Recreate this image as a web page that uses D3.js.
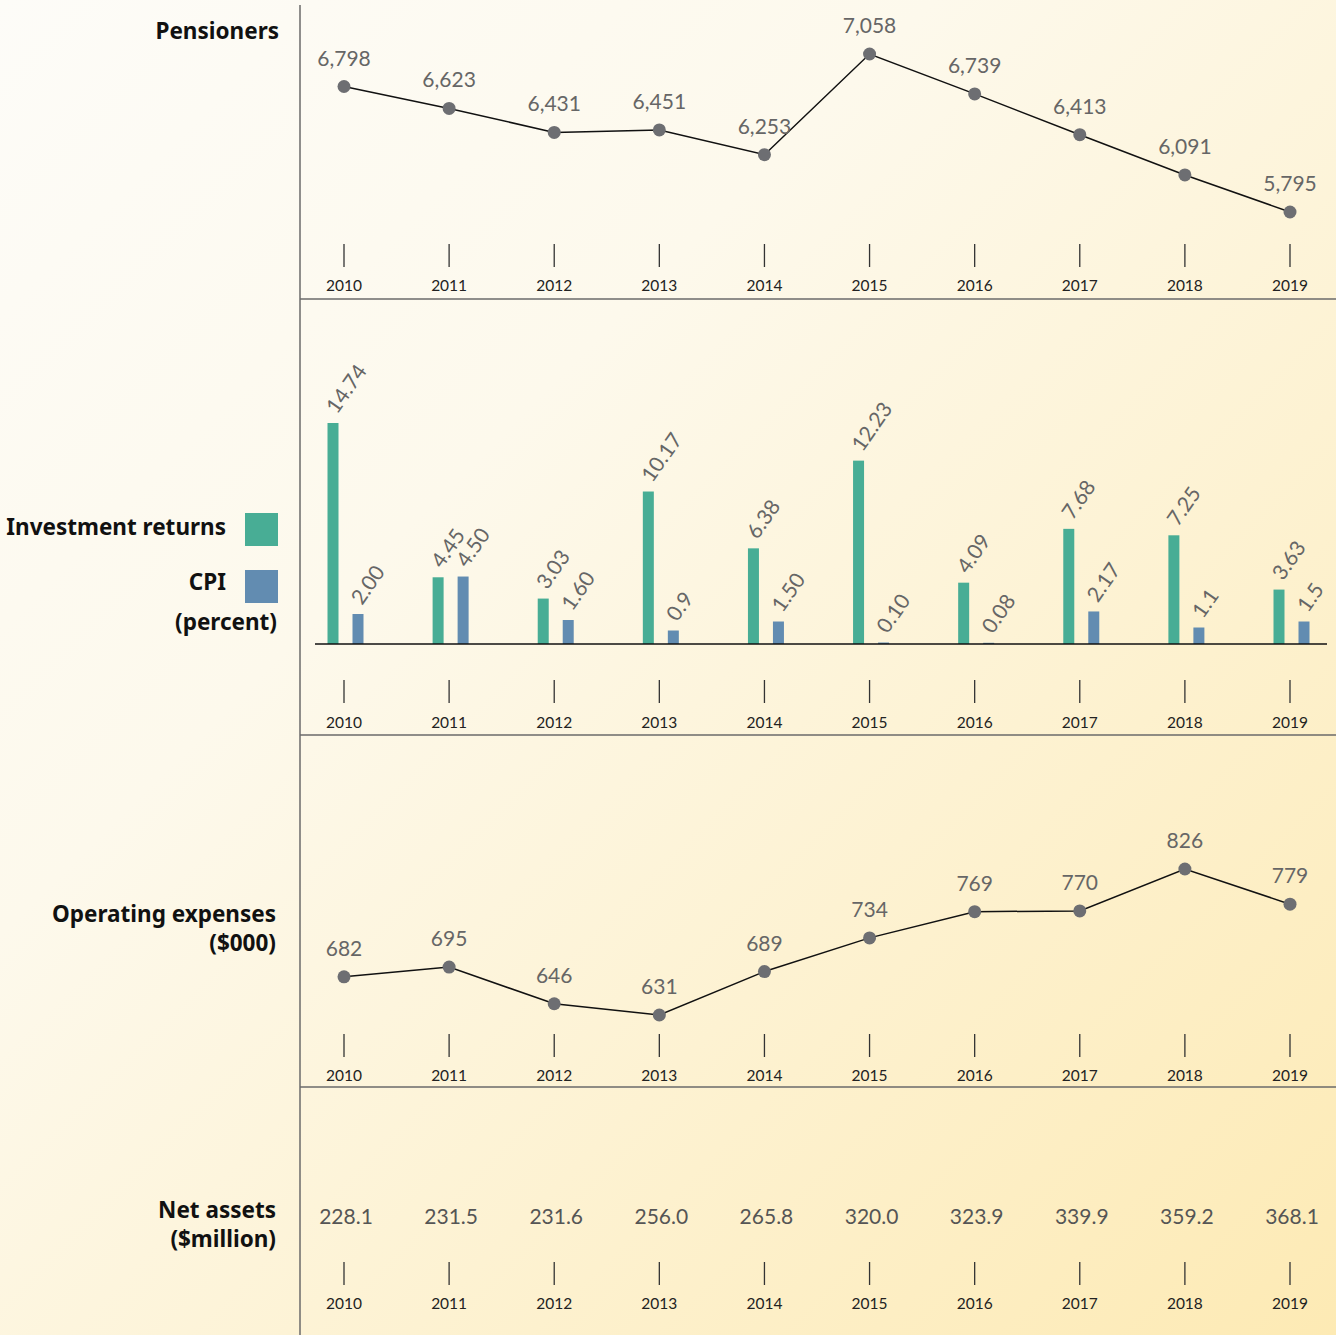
<!DOCTYPE html>
<html>
<head>
<meta charset="utf-8">
<script src="https://cdn.jsdelivr.net/npm/d3@7"></script>
<style>
  html, body { margin: 0; padding: 0; }
  svg { display: block; font-family: Lato, "Noto Sans", sans-serif; }
</style>
</head>
<body>
<div id="chart"></div>
<script>
const years = ['2010', '2011', '2012', '2013', '2014', '2015', '2016', '2017', '2018', '2019'];
const pensioners = [6798, 6623, 6431, 6451, 6253, 7058, 6739, 6413, 6091, 5795];
const investReturns = [14.74, 4.45, 3.03, 10.17, 6.38, 12.23, 4.09, 7.68, 7.25, 3.63];
const investLabels = ['14.74', '4.45', '3.03', '10.17', '6.38', '12.23', '4.09', '7.68', '7.25', '3.63'];
const cpi = [2.00, 4.50, 1.60, 0.9, 1.50, 0.10, 0.08, 2.17, 1.1, 1.5];
const cpiLabels = ['2.00', '4.50', '1.60', '0.9', '1.50', '0.10', '0.08', '2.17', '1.1', '1.5'];
const opex = [682, 695, 646, 631, 689, 734, 769, 770, 826, 779];
const netAssets = ['228.1', '231.5', '231.6', '256.0', '265.8', '320.0', '323.9', '339.9', '359.2', '368.1'];

const W = 1336, H = 1335;
const GREEN = '#48ad95', BLUE = '#628cb1', DOT = '#6d6e72', NUM = '#666';

const svg = d3.select('#chart').append('svg')
    .attr('width', W)
    .attr('height', H);

// background gradient
const grad = svg.append('defs').append('linearGradient')
    .attr('id', 'bg')
    .attr('x1', '0%').attr('y1', '0%')
    .attr('x2', '100%').attr('y2', '100%');
grad.append('stop').attr('offset', '0%').attr('stop-color', '#fdfcf8');
grad.append('stop').attr('offset', '35%').attr('stop-color', '#fdf9ec');
grad.append('stop').attr('offset', '100%').attr('stop-color', '#fdeab4');
svg.append('rect').attr('width', W).attr('height', H).attr('fill', 'url(#bg)');

const x = d3.scalePoint().domain(years).range([344, 1290]);

// frame: vertical rule and panel separators
svg.append('line')
    .attr('x1', 300).attr('x2', 300).attr('y1', 5).attr('y2', H)
    .attr('stroke', '#6a6a6a').attr('stroke-width', 1.5);
[299, 735, 1087].forEach(y => {
    svg.append('line')
        .attr('x1', 300).attr('x2', W).attr('y1', y).attr('y2', y)
        .attr('stroke', '#6a6a6a').attr('stroke-width', 1.5);
});

// year ticks for each panel
function yearAxis(tickTop, labelY) {
    const g = svg.append('g');
    g.selectAll('line').data(years).join('line')
        .attr('x1', d => x(d)).attr('x2', d => x(d))
        .attr('y1', tickTop).attr('y2', tickTop + 23)
        .attr('stroke', '#333').attr('stroke-width', 1.3);
    g.selectAll('text').data(years).join('text')
        .attr('x', d => x(d)).attr('y', labelY)
        .attr('text-anchor', 'middle')
        .attr('font-size', 15.5)
        .attr('fill', '#222')
        .text(d => d);
}
yearAxis(244, 291);
yearAxis(680, 728);
yearAxis(1034, 1081);
yearAxis(1262, 1309);

// left-hand labels
function label(text, xr, y) {
    svg.append('text')
        .attr('x', xr).attr('y', y)
        .attr('text-anchor', 'end')
        .attr('font-family', '"Noto Sans", sans-serif')
        .attr('font-size', 22.5)
        .attr('font-weight', 'bold')
        .attr('fill', '#111')
        .text(text);
}
label('Pensioners', 279, 39);
label('Investment returns', 226, 535);
label('CPI', 226, 590);
label('(percent)', 277, 630);
label('Operating expenses', 276, 922);
label('($000)', 276, 951);
label('Net assets', 276, 1218);
label('($million)', 276, 1247);

svg.append('rect').attr('x', 245).attr('y', 513).attr('width', 33).attr('height', 33).attr('fill', GREEN);
svg.append('rect').attr('x', 245).attr('y', 570).attr('width', 33).attr('height', 33).attr('fill', BLUE);

// line panels
function linePanel(values, y, fmt) {
    const line = d3.line()
        .x((d, i) => x(years[i]))
        .y(d => y(d));
    svg.append('path')
        .datum(values)
        .attr('fill', 'none')
        .attr('stroke', '#111')
        .attr('stroke-width', 1.5)
        .attr('d', line);
    svg.append('g').selectAll('circle').data(values).join('circle')
        .attr('cx', (d, i) => x(years[i]))
        .attr('cy', d => y(d))
        .attr('r', 6.5)
        .attr('fill', DOT);
    svg.append('g').selectAll('text').data(values).join('text')
        .attr('x', (d, i) => x(years[i]))
        .attr('y', d => y(d) - 21)
        .attr('text-anchor', 'middle')
        .attr('font-size', 21)
        .attr('fill', NUM)
        .text(fmt);
}

const yPens = d3.scaleLinear().domain([5795, 7058]).range([212, 54]);
linePanel(pensioners, yPens, d3.format(','));

const yOpex = d3.scaleLinear().domain([631, 826]).range([1015, 869]);
linePanel(opex, yOpex, d => d);

// bar panel
const baseY = 644;
const yBar = d3.scaleLinear().domain([0, 14.74]).range([baseY, 423]);
const barW = 11;
const series = [
    { values: investReturns, labels: investLabels, color: GREEN, off: -11 },
    { values: cpi, labels: cpiLabels, color: BLUE, off: 14 }
];
series.forEach(s => {
    const g = svg.append('g');
    g.selectAll('rect').data(s.values).join('rect')
        .attr('x', (d, i) => x(years[i]) + s.off - barW / 2)
        .attr('y', d => yBar(d))
        .attr('width', barW)
        .attr('height', d => baseY - yBar(d))
        .attr('fill', s.color);
    g.selectAll('text').data(s.values).join('text')
        .attr('transform', (d, i) =>
            `translate(${x(years[i]) + s.off + 4},${yBar(d) - 8}) rotate(-55)`)
        .attr('font-size', 21)
        .attr('fill', NUM)
        .text((d, i) => s.labels[i]);
});
svg.append('line')
    .attr('x1', 315).attr('x2', 1327).attr('y1', baseY).attr('y2', baseY)
    .attr('stroke', '#111').attr('stroke-width', 1.3);

// net assets row
svg.append('g').selectAll('text').data(netAssets).join('text')
    .attr('x', (d, i) => x(years[i]) + 2)
    .attr('y', 1224)
    .attr('text-anchor', 'middle')
    .attr('font-size', 21)
    .attr('fill', '#555')
    .text(d => d);
</script>
</body>
</html>
